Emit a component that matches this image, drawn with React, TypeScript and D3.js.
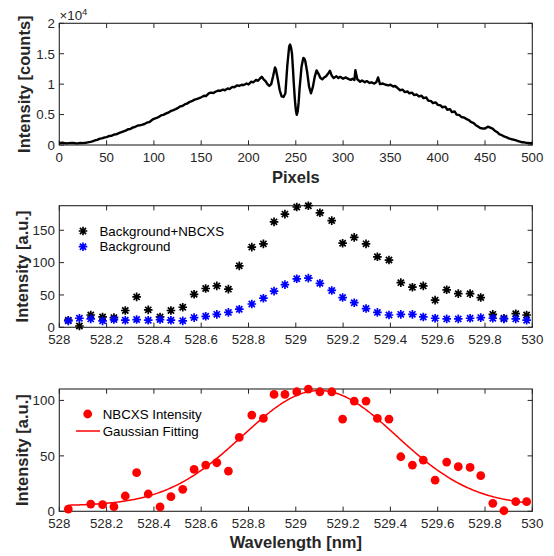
import React from 'react';
import * as d3 from 'd3';

// ---------- Data ----------
const pixelPositions = [
  0, 3, 5, 8, 10, 13, 15, 18, 20, 23, 25, 28, 30, 33, 35, 38, 40, 43, 45, 48, 50, 53, 55, 58, 60, 63, 65, 68, 70, 73, 75, 78, 80,
  83, 85, 88, 90, 93, 95, 98, 100, 103, 105, 108, 110, 113, 115, 118, 120, 123, 125, 128, 130, 133, 135, 138, 140, 143, 145, 148,
  150, 153, 155, 158, 160, 163, 165, 168, 170, 173, 175, 178, 180, 183, 185, 188, 190, 193, 195, 198, 200, 203, 205, 208, 210,
  212, 214, 216, 218, 220, 222, 224, 226, 228, 229, 231, 233, 235, 237, 239, 241, 243, 244, 245, 246, 247, 248, 249, 250, 251,
  252, 253, 254, 255, 256, 257, 258, 259, 260, 262, 264, 266, 268, 270, 272, 274, 276, 278, 280, 282, 284, 286, 288, 290, 293,
  295, 297, 300, 303, 305, 308, 310, 312, 313, 315, 318, 320, 323, 325, 328, 330, 333, 335, 337, 339, 342, 345, 348, 350, 353,
  355, 358, 360, 363, 365, 368, 370, 373, 375, 378, 380, 383, 385, 388, 390, 393, 395, 398, 400, 403, 405, 408, 410, 413, 415,
  418, 420, 423, 425, 428, 430, 433, 435, 438, 440, 443, 445, 448, 450, 453, 455, 458, 460, 463, 465, 468, 470, 473, 475, 478,
  480, 483, 485, 488, 490, 493, 495, 498, 500,
];
const pixelCounts = [
  300, 380, 320, 260, 300, 350, 320, 270, 290, 340, 310, 360, 420, 520, 600, 780, 850, 1050, 1080, 1250, 1300, 1480, 1500, 1720,
  1750, 1950, 2080, 2250, 2350, 2600, 2620, 2900, 2950, 3200, 3230, 3350, 3450, 3700, 3750, 4100, 4300, 4450, 4600, 4900, 4950,
  5200, 5300, 5600, 5700, 5900, 6050, 6350, 6400, 6700, 6800, 7100, 7200, 7450, 7550, 7700, 7850, 8100, 8050, 8500, 8600, 8550,
  8750, 8950, 8900, 9100, 9000, 9300, 9200, 9550, 9500, 9800, 9700, 9900, 9850, 10100, 9950, 10400, 10300, 10700, 10550,
  10900, 11200, 10800, 10500, 10000, 9700, 10000, 11300, 12750, 12400, 10800, 9000, 8000, 7900, 8500, 13000, 16200, 16500,
  16000, 15000, 12500, 9800, 7500, 5800, 4950, 5500, 7000, 9300, 11000, 12800, 13600, 14300, 14200, 13800, 12000, 9600, 8500,
  9500, 11200, 12250, 11700, 11000, 10800, 11100, 11300, 11700, 12200, 11400, 11000, 11300, 11000, 11200, 10900, 11100, 10900,
  10700, 10900, 10700, 12300, 10800, 10400, 10600, 10300, 10500, 10200, 10300, 10100, 10300, 11100, 10000, 10100, 9900, 9800,
  9900, 9600, 9700, 9300, 9000, 9100, 8700, 8800, 8500, 8600, 8200, 8300, 8000, 8100, 7700, 7800, 7300, 7200, 6900, 7000, 6600,
  6500, 6200, 6300, 5800, 5900, 5400, 5500, 5000, 4900, 4600, 4500, 4300, 4100, 3800, 3600, 3300, 3000, 2800, 2700, 2700, 3000,
  2900, 2700, 2400, 2100, 1800, 1600, 1400, 1250, 1100, 950, 900, 750, 650, 500, 450, 380, 350, 300, 300,
];

const wavelengths = [
  528.038, 528.085, 528.133, 528.183, 528.231, 528.279, 528.327, 528.376, 528.426, 528.472, 528.522, 528.57, 528.619, 528.666,
  528.715, 528.761, 528.814, 528.863, 528.908, 528.954, 529.004, 529.053, 529.102, 529.152, 529.198, 529.247, 529.297, 529.345,
  529.394, 529.444, 529.493, 529.539, 529.589, 529.638, 529.687, 529.737, 529.782, 529.833, 529.88, 529.93, 529.976,
];
const backgroundPlusNbcxs = [
  11, 2, 19, 16, 15, 26, 47, 27, 16, 26, 31, 51, 60, 64, 59, 95, 124, 129, 163, 175, 186, 188, 177, 165, 130, 139, 129, 109,
  104, 69, 62, 64, 42, 58, 52, 52, 46, 20, 14, 21, 19,
];
const backgroundOnly = [
  10, 14, 13, 10, 12, 11, 12, 11, 12, 11, 10, 15, 17, 20, 23, 28, 36, 45, 56, 66, 75, 76, 68, 57, 46, 38, 29, 23, 19, 20, 20,
  16, 14, 13, 13, 14, 15, 14, 13, 13, 11,
];
const nbcxsIntensity = [
  2, -12, 6.5, 6, 4.2, 13.8, 34.8, 15.6, 3.9, 13.2, 19.8, 37.8, 41.7, 43.8, 36.3, 66.6, 86.8, 83.8, 105.4, 105.4, 107.8, 110.2,
  107.8, 107.8, 83.2, 99.4, 99.4, 83.8, 83.2, 49.2, 41.7, 46.2, 28.2, 44.4, 40.2, 39.6, 32.1, 7.2, 0.5, 8.7, 8.7,
];

// Gaussian fit parameters
const gaussAmplitude = 104;
const gaussCenter = 529.1;
const gaussWidth = 0.46;
const gaussOffset = 5;

const pixelTicks = [0, 50, 100, 150, 200, 250, 300, 350, 400, 450, 500];
const countTicks = [0, 5000, 10000, 15000, 20000];
const countTickLabels = ['0', '0.5', '1', '1.5', '2'];
const wavelengthTicks = [528, 528.2, 528.4, 528.6, 528.8, 529, 529.2, 529.4, 529.6, 529.8, 530];
const wavelengthTickLabels = ['528', '528.2', '528.4', '528.6', '528.8', '529', '529.2', '529.4', '529.6', '529.8', '530'];
const middleTicks = [0, 50, 100, 150];
const bottomTicks = [0, 50, 100];

// ---------- Style ----------
const FONT = '"Liberation Sans", Arial, Helvetica, sans-serif';
const AXC = '#262626';
const TICK_FS = 13.3;
const LABEL_FS = 16.5;
const TL = 4.7;
const LEFT = 59.3;
const RIGHT = 532.3;

type PanelProps = {
  x: d3.ScaleLinear<number, number>;
  y: d3.ScaleLinear<number, number>;
  xTicks: number[];
  xLabels: string[];
  yTicks: number[];
  yLabels: string[];
  ylabel: string;
  ylabelX: number;
  xlabel?: string;
  xlabelY?: number;
  children?: React.ReactNode;
};

function Panel({ x, y, xTicks, xLabels, yTicks, yLabels, ylabel, ylabelX, xlabel, xlabelY, children }: PanelProps) {
  const [x0, x1] = x.range();
  const [y0, y1] = y.range(); // y0 bottom, y1 top
  return (
    <g>
      <rect x={x0} y={y1} width={x1 - x0} height={y0 - y1} fill="white" stroke="none" />
      {xTicks.map((t, i) => (
        <g key={'xt' + i}>
          <line x1={x(t)} x2={x(t)} y1={y0} y2={y0 - TL} stroke={AXC} strokeWidth={1} />
          <line x1={x(t)} x2={x(t)} y1={y1} y2={y1 + TL} stroke={AXC} strokeWidth={1} />
          <text x={x(t)} y={y0 + 16.8} textAnchor="middle" fontSize={TICK_FS} fill={AXC} fontFamily={FONT}>
            {xLabels[i]}
          </text>
        </g>
      ))}
      {yTicks.map((t, i) => (
        <g key={'yt' + i}>
          <line x1={x0} x2={x0 + TL} y1={y(t)} y2={y(t)} stroke={AXC} strokeWidth={1} />
          <line x1={x1} x2={x1 - TL} y1={y(t)} y2={y(t)} stroke={AXC} strokeWidth={1} />
          <text x={x0 - 4.5} y={y(t)} dy="0.36em" textAnchor="end" fontSize={TICK_FS} fill={AXC} fontFamily={FONT}>
            {yLabels[i]}
          </text>
        </g>
      ))}
      <rect x={x0} y={y1} width={x1 - x0} height={y0 - y1} fill="none" stroke={AXC} strokeWidth={1.1} />
      <text
        transform={`translate(${ylabelX},${(y0 + y1) / 2}) rotate(-90)`}
        textAnchor="middle"
        fontSize={LABEL_FS}
        fontWeight="bold"
        fill={AXC}
        fontFamily={FONT}
      >
        {ylabel}
      </text>
      {xlabel && (
        <text x={(x0 + x1) / 2} y={xlabelY} textAnchor="middle" fontSize={LABEL_FS} fontWeight="bold" fill={AXC} fontFamily={FONT}>
          {xlabel}
        </text>
      )}
      {children}
    </g>
  );
}

const STAR = 'M-4.3,0H4.3M0,-4.3V4.3M-3.1,-3.1L3.1,3.1M-3.1,3.1L3.1,-3.1';

function Star({ cx, cy, color }: { cx: number; cy: number; color: string }) {
  return <path d={STAR} transform={`translate(${cx},${cy})`} stroke={color} strokeWidth={1.7} fill="none" />;
}

export default function App() {
  // Top panel
  const xTop = d3.scaleLinear().domain([0, 500]).range([LEFT, RIGHT]);
  const yTop = d3.scaleLinear().domain([0, 20000]).range([145, 23.3]);
  const topLine = d3
    .line<number>()
    .x((_, i) => xTop(pixelPositions[i]))
    .y((d) => yTop(d));

  // Middle panel
  const xMid = d3.scaleLinear().domain([528, 530]).range([LEFT, RIGHT]);
  const yMid = d3.scaleLinear().domain([0, 188]).range([327.3, 205.7]);

  // Bottom panel
  const xBot = d3.scaleLinear().domain([528, 530]).range([LEFT, RIGHT]);
  const yBot = d3.scaleLinear().domain([0, 110.3]).range([511.3, 389]);
  const wMin = wavelengths[0];
  const wMax = wavelengths[wavelengths.length - 1];
  const fitX = d3.range(0, 301).map((k) => wMin + ((wMax - wMin) * k) / 300);
  const fitLine = d3
    .line<number>()
    .x((w) => xBot(w))
    .y((w) => yBot(gaussAmplitude * Math.exp(-Math.pow((w - gaussCenter) / gaussWidth, 2)) + gaussOffset))
    .curve(d3.curveLinear);

  const inMid = (v: number) => v >= 0 && v <= 188;
  const inBot = (v: number) => v >= 0 && v <= 110.3;

  return (
    <svg width={554} height={556} style={{ position: 'absolute', left: 0, top: 0, background: 'white' }}>
      <rect width={554} height={556} fill="white" />
      {/* Top */}
      <Panel
        x={xTop}
        y={yTop}
        xTicks={pixelTicks}
        xLabels={pixelTicks.map(String)}
        yTicks={countTicks}
        yLabels={countTickLabels}
        ylabel="Intensity [counts]"
        ylabelX={29.5}
        xlabel="Pixels"
        xlabelY={183}
      >
        <text x={59.5} y={20} fontSize={TICK_FS} fill={AXC} fontFamily={FONT}>
          ×10
          <tspan dy={-5.5} fontSize={9.5}>
            4
          </tspan>
        </text>
        <path d={topLine(pixelCounts) || ''} fill="none" stroke="black" strokeWidth={2.4} strokeLinejoin="round" />
      </Panel>

      {/* Middle */}
      <Panel
        x={xMid}
        y={yMid}
        xTicks={wavelengthTicks}
        xLabels={wavelengthTickLabels}
        yTicks={middleTicks}
        yLabels={middleTicks.map(String)}
        ylabel="Intensity [a.u.]"
        ylabelX={27.5}
      >
        {wavelengths.map((w, i) =>
          inMid(backgroundPlusNbcxs[i]) ? <Star key={'k' + i} cx={xMid(w)} cy={yMid(backgroundPlusNbcxs[i])} color="#000000" /> : null
        )}
        {wavelengths.map((w, i) =>
          inMid(backgroundOnly[i]) ? <Star key={'b' + i} cx={xMid(w)} cy={yMid(backgroundOnly[i])} color="#0000ff" /> : null
        )}
        <Star cx={83} cy={231} color="#000000" />
        <text x={99.5} y={231} dy="0.36em" fontSize={TICK_FS} fill="#000" fontFamily={FONT}>
          Background+NBCXS
        </text>
        <Star cx={83} cy={246.7} color="#0000ff" />
        <text x={99.5} y={246.7} dy="0.36em" fontSize={TICK_FS} fill="#000" fontFamily={FONT}>
          Background
        </text>
      </Panel>

      {/* Bottom */}
      <Panel
        x={xBot}
        y={yBot}
        xTicks={wavelengthTicks}
        xLabels={wavelengthTickLabels}
        yTicks={bottomTicks}
        yLabels={bottomTicks.map(String)}
        ylabel="Intensity [a.u.]"
        ylabelX={27.5}
        xlabel="Wavelength [nm]"
        xlabelY={547.5}
      >
        {wavelengths.map((w, i) =>
          inBot(nbcxsIntensity[i]) ? (
            <circle key={'r' + i} cx={xBot(w)} cy={yBot(nbcxsIntensity[i])} r={4.4} fill="#ff0000" />
          ) : null
        )}
        <path d={fitLine(fitX) || ''} fill="none" stroke="#ff0000" strokeWidth={1.5} />
        <circle cx={87.7} cy={414} r={4.4} fill="#ff0000" />
        <text x={102.7} y={414} dy="0.36em" fontSize={TICK_FS} fill="#000" fontFamily={FONT}>
          NBCXS Intensity
        </text>
        <line x1={76} x2={100} y1={431} y2={431} stroke="#ff0000" strokeWidth={1.5} />
        <text x={102.7} y={431} dy="0.36em" fontSize={TICK_FS} fill="#000" fontFamily={FONT}>
          Gaussian Fitting
        </text>
      </Panel>
    </svg>
  );
}
